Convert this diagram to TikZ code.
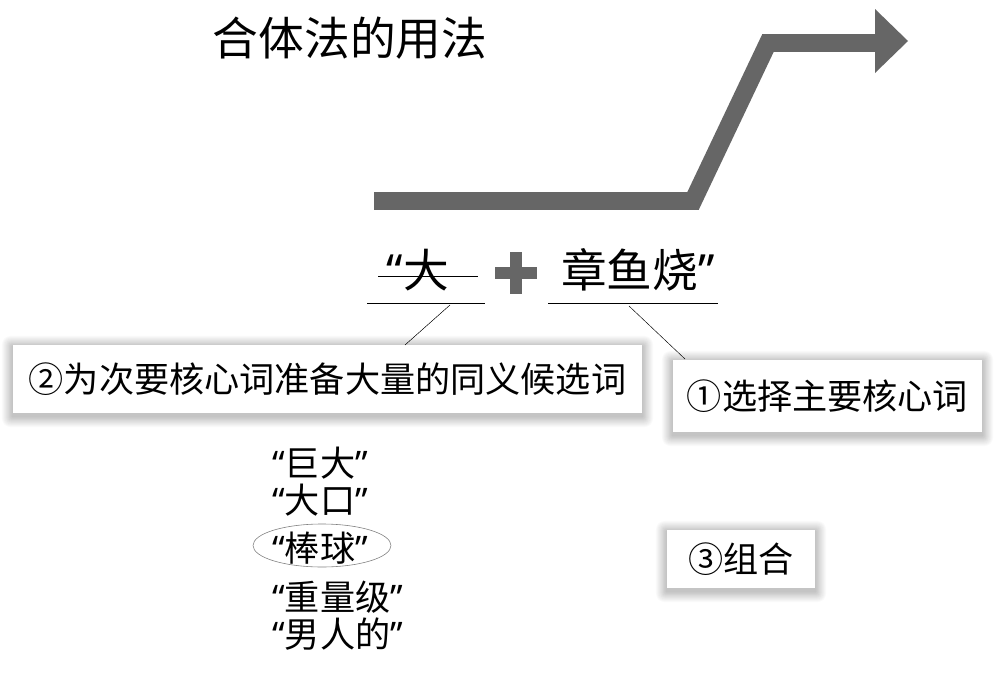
\documentclass[tikz,border=0pt]{standalone}
\usepackage{fontspec}
\setmainfont{Noto Sans CJK SC}
\newfontfamily\quotefont{Noto Sans}
\newcommand\oqt{{\quotefont “}}
\newcommand\cqt{{\quotefont ”}}
\usetikzlibrary{calc}
\pgfdeclarelayer{bg}
\pgfsetlayers{bg,main}
\definecolor{arrowgray}{HTML}{666666}
\tikzset{
  px/.style={x=0.03cm,y=-0.03cm},
  tagbox/.style={fill=white,inner sep=0pt,anchor=center},
  shadowstep/.style={fill=black,opacity=0.02},
  boxtext/.style={font=\fontsize{30pt}{34pt}\selectfont},
  bigtext/.style={font=\fontsize{39pt}{44pt}\selectfont,inner sep=0pt},
  listtext/.style={font=\fontsize{30pt}{34pt}\selectfont,inner sep=0pt,anchor=west},
  thinline/.style={line width=0.6pt,black},
}
\newcommand\softshadow[1]{%
  \begin{pgfonlayer}{bg}
  \foreach \i in {1,...,12}{%
    \fill[shadowstep,rounded corners=\i*0.6pt] ($(#1.south west)+(-\i*0.9,\i*0.9+3)$) rectangle ($(#1.north east)+(\i*0.9,-\i*0.9+2)$);
  }
  \end{pgfonlayer}}
\begin{document}
\begin{tikzpicture}[px]
\useasboundingbox (0,0) rectangle (1000,673);
\begin{pgfonlayer}{bg}
\fill[white] (0,0) rectangle (1000,673);
\end{pgfonlayer}
% title
\node[bigtext] (title) at (350,38) {合体法的用法};
% big arrow
\draw[arrowgray,line width=15.3pt,line join=miter] (374,201) -- (693,201) -- (768,43) -- (878,43);
\fill[arrowgray] (875,9) -- (908,41) -- (875,73) -- cycle;
% main formula
\node[bigtext,anchor=center] (da) at (418,270) {\oqt 大};
\node[bigtext,anchor=center] (zhang) at (638,270) {章鱼烧\cqt};
\draw[arrowgray,line width=10.5pt] (495,273) -- (537,273);
\draw[arrowgray,line width=10.5pt] (516,252) -- (516,294);
\coordinate (s1) at (378,276); \coordinate (s2) at (478,276);
\draw[thinline] (s1) -- (s2);
\coordinate (u1a) at (367,303); \coordinate (u1b) at (485,303);
\coordinate (u2a) at (548,303); \coordinate (u2b) at (718,303);
\draw[thinline] (u1a) -- (u1b);
\draw[thinline] (u2a) -- (u2b);
% boxes
\node[tagbox,minimum width=629*0.03cm,minimum height=68*0.03cm] (box2) at (327.5,379) {};
\node[boxtext] (t2) at (box2.center) {②为次要核心词准备大量的同义候选词};
\node[tagbox,minimum width=309*0.03cm,minimum height=72*0.03cm] (box1) at (827.5,396) {};
\node[boxtext] (t1) at (box1.center) {①选择主要核心词};
\node[tagbox,minimum width=148*0.03cm,minimum height=58*0.03cm] (box3) at (741,559) {};
\node[boxtext] (t3) at (box3.center) {③组合};
\softshadow{box2}
\softshadow{box1}
\softshadow{box3}
% connectors
\coordinate (c2a) at (450,305); \coordinate (c2b) at (405,345);
\coordinate (c1a) at (629,306); \coordinate (c1b) at (685,359);
\draw[line width=0.4pt] (c2a) -- (c2b);
\draw[line width=0.4pt] (c1a) -- (c1b);
% list
\node[listtext] (w1) at (272,463) {\oqt 巨大\cqt};
\node[listtext] (w2) at (272,500) {\oqt 大口\cqt};
\node[listtext] (w3) at (272,548) {\oqt 棒球\cqt};
\node[listtext] (w4) at (272,597) {\oqt 重量级\cqt};
\node[listtext] (w5) at (272,634) {\oqt 男人的\cqt};
\draw[gray,line width=0.5pt] (322,545.5) ellipse [x radius=69,y radius=21.5];
\end{tikzpicture}
\end{document}
